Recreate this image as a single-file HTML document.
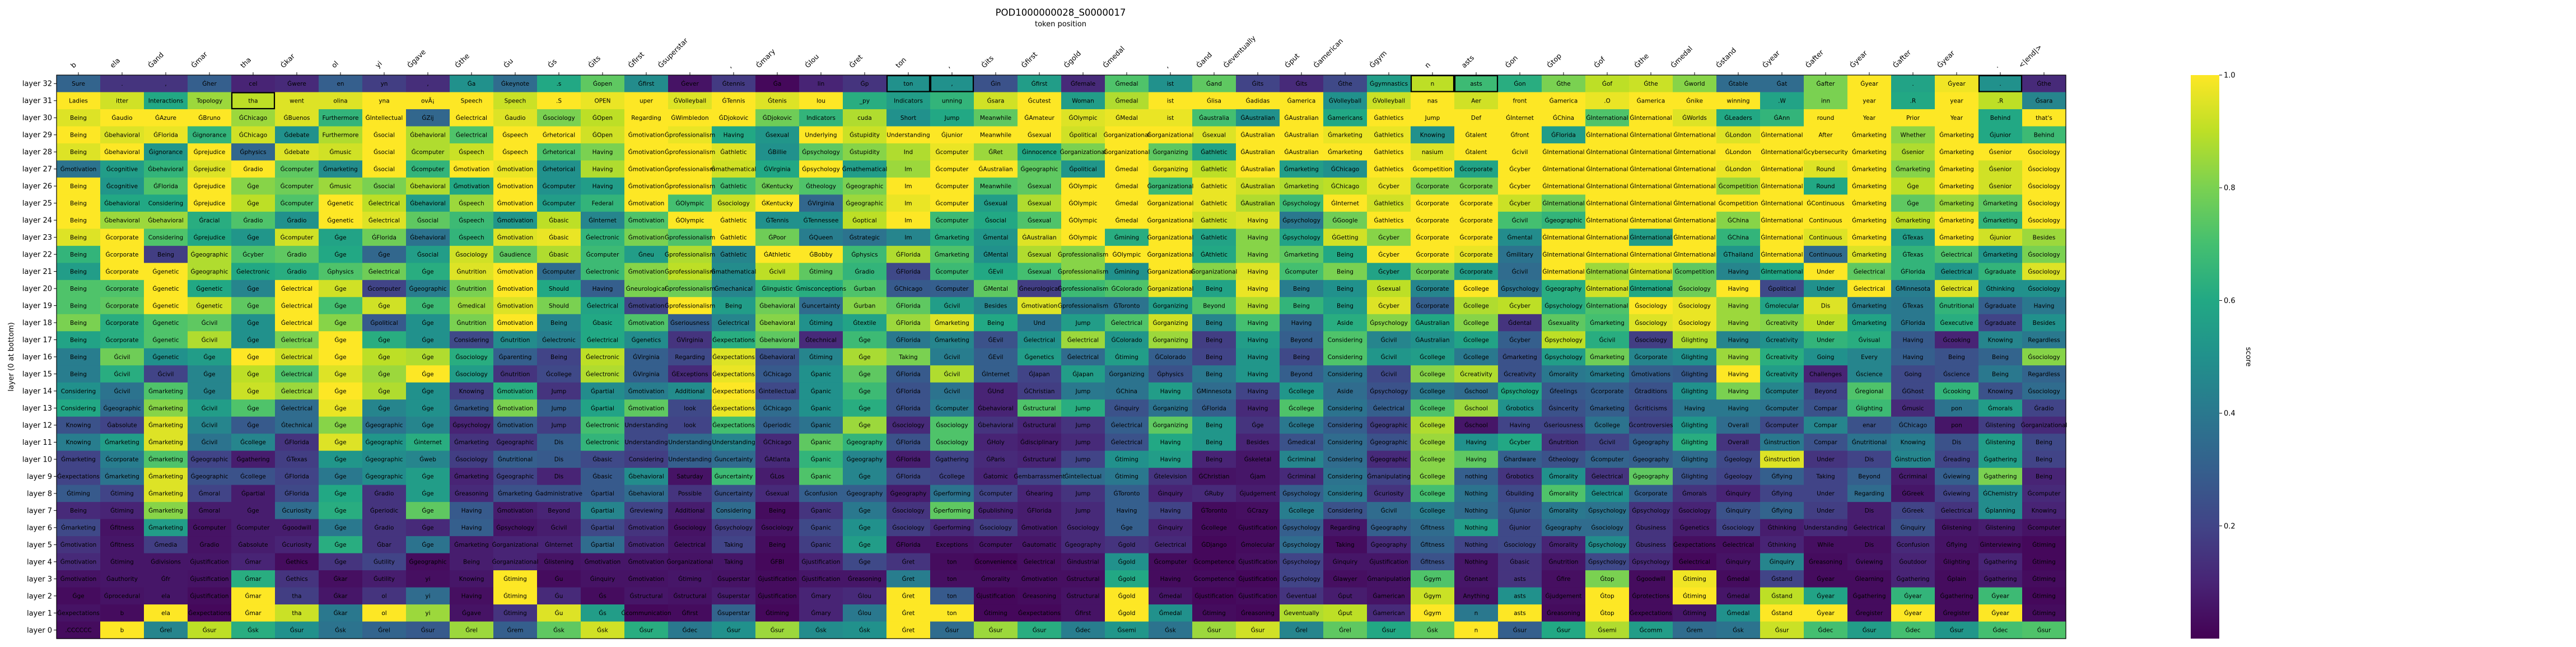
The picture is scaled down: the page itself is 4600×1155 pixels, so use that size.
<!DOCTYPE html>
<html><head><meta charset="utf-8">
<style>
html,body{margin:0;padding:0;background:#fff;}
svg{display:block;font-family:"DejaVu Sans","Liberation Sans",sans-serif;}
</style></head>
<body>
<svg id="chart" width="4600" height="1155" viewBox="0 0 4600 1155" xmlns="http://www.w3.org/2000/svg">
<text x="1894" y="28" font-size="16.5" text-anchor="middle">POD1000000028_S0000017</text>
<text x="1894" y="47" font-size="13" text-anchor="middle">token position</text>
<text transform="translate(24,637) rotate(-90)" font-size="13" text-anchor="middle">layer (0 at bottom)</text>
<g id="cells"></g>
<g id="celltext"></g>
<g id="boxes"></g>
<g id="axes"></g>
<g id="cbar"></g>
</svg>
<script>
const tokens = ["b","ela","Ġand","Ġmar","tha","Ġkar","ol","yi","Ġgave","Ġthe","Ġu","Ġs","Ġits","Ġfirst","Ġsuperstar",",","Ġmary","Ġlou","Ġret","ton",",","Ġits","Ġfirst","Ġgold","Ġmedal",",","Ġand","Ġeventually","Ġput","Ġamerican","Ġgym","n","asts","Ġon","Ġtop","Ġof","Ġthe","Ġmedal","Ġstand","Ġyear","Ġafter","Ġyear","Ġafter","Ġyear",".","<|end|>"];
const layerOrder = [32,31,30,29,28,27,26,25,24,23,22,21,20,19,18,17,16,15,14,13,12,11,10,9,8,7,6,5,4,3,2,1,0];
const cbTicks = [0.2,0.4,0.6,0.8,1.0];
const boxed = [[31,4],[32,19],[32,20],[32,31],[32,32],[32,44]];
const txt32 = "Sure|.|,|^her|cel|^were|en|yn|,|^a|^keynote|.s|^open|^first|^ever|^tennis|^a|lin|^p|ton|,|^in|^first|^female|^medal|ist|^and|^its|^its|^the|^gymnastics|n|asts|^on|^the|^of|^the|^world|^table|^at|^after|^year|.|^year|.|^the";
const val32 = [.32,.15,.15,.3,.1,.12,.3,.18,.13,.5,.35,.6,.75,.48,.05,.17,.02,.1,.15,.5,.5,.25,.55,.12,.72,.5,.75,.2,.12,.22,.55,.9,.68,.62,.8,.9,.92,.82,.35,.35,.8,1,.58,.98,.5,.12];
const txt31 = "Ladies|itter|Interactions|Topology|tha|went|olina|yna|ovÃ¡|Speech|Speech|.S|OPEN|uper|^Volleyball|^Tennis|^tenis|lou|_py|Indicators|unning|^sara|^cutest|Woman|^medal|ist|^lisa|^adidas|^america|^Volleyball|^Volleyball|nas|Aer|front|^america|.O|^america|^nike|winning|.W|inn|year|.R|year|.R|^sara";
const val31 = [1,.93,.6,.85,.9,.95,.95,1,1,1,.92,1,.97,1,.95,1,.95,1,.62,.55,.65,.93,1,.55,.88,1,1,1,1,.5,.92,1,.93,1,1,.97,1,1,1,.58,.8,1,.6,1,.9,.45];
const txt30 = "Being|^audio|^Azure|^Bruno|^Chicago|^Buenos|Furthermore|^Intellectual|^Zij|^electrical|^audio|^sociology|^Open|Regarding|^Wimbledon|^Djokovic|^Djokovic|Indicators|cuda|Short|Jump|Meanwhile|^Amateur|^Olympic|^Medal|ist|^australia|^Australian|^Australian|^americans|^athletics|Jump|Def|^Internet|^China|^International|^International|^Worlds|^Leaders|^Ann|round|Year|Prior|Year|Behind|that's";
const val30 = [.95,1,1,1,.85,.95,.65,1,.33,1,.95,.8,.9,1,1,1,.78,.65,.88,.5,.6,.75,1,.95,.97,.97,.7,.5,1,.6,1,1,1,1,1,.72,1,.95,.6,.65,1,1,1,1,.6,1];
const txt29 = "Being|^behavioral|^Florida|^ignorance|^Chicago|^debate|Furthermore|^social|^behavioral|^electrical|^speech|^rhetorical|^Open|^motivation|^professionalism|Having|^sexual|Underlying|^stupidity|Understanding|^junior|Meanwhile|^sexual|^political|^organizational|^organizational|^sexual|^Australian|^Australian|^marketing|^athletics|Knowing|^talent|^front|^Florida|^International|^International|^International|^London|^International|After|^marketing|Whether|^marketing|^junior|Behind";
const val29 = [1,.95,.97,.65,.93,.5,.88,1,.88,.72,1,1,.93,1,.97,.6,.52,1,.92,1,1,1,1,.93,1,1,.95,1,1,.97,.97,.5,1,1,.55,1,1,1,.95,1,1,1,.83,1,.6,.68];
const txt28 = "Being|^behavioral|^ignorance|^prejudice|^physics|^debate|^music|^social|^computer|^speech|^speech|^rhetorical|Having|^motivation|^professionalism|^athletic|^Billie|^psychology|^stupidity|Ind|^computer|^Ret|^innocence|^organizational|^organizational|^organizing|^athletic|^Australian|^Australian|^marketing|^athletics|nasium|^talent|^civil|^International|^International|^International|^International|^London|^International|^cybersecurity|^marketing|^senior|^marketing|^senior|^sociology";
const val28 = [.95,1,.52,1,.33,.95,.93,1,.88,.92,1,.72,.8,1,1,.95,.5,.75,.82,.88,.97,.85,.6,.8,1,.75,.58,1,1,1,1,.95,1,1,1,1,1,1,1,1,1,1,.88,1,1,1];
const txt27 = "^motivation|^cognitive|^behavioral|^prejudice|^radio|^computer|^marketing|^social|^computer|^motivation|^motivation|^rhetorical|Having|^motivation|^professionalism|^mathematical|^Virginia|^psychology|^mathematical|Im|^computer|^Australian|^geographic|^political|^medal|^organizing|^athletic|^Australian|^marketing|^Chicago|^athletics|^competition|^corporate|^cyber|^International|^International|^International|^International|^London|^International|Round|^marketing|^marketing|^marketing|^senior|^sociology";
const val27 = [.38,.55,.65,.95,1,.75,.48,1,.65,1,.97,.5,.88,1,1,.93,.6,1,.55,.85,1,1,.75,.52,1,.97,.9,1,.55,.5,1,1,.58,1,1,1,1,1,.97,1,.95,1,.82,1,.93,1];
const txt26 = "Being|^cognitive|^Florida|^prejudice|^ge|^computer|^music|^social|^behavioral|^motivation|^motivation|^computer|Having|^motivation|^professionalism|^athletic|^Kentucky|^theology|^geographic|Im|^computer|Meanwhile|^sexual|^Olympic|^medal|^organizational|^athletic|^Australian|^marketing|^Chicago|^cyber|^corporate|^corporate|^cyber|^International|^International|^International|^International|^competition|^International|Round|^marketing|^ge|^marketing|^senior|^sociology";
const val26 = [1,.52,.72,1,.82,.78,.85,.8,.88,.6,1,.5,.55,1,1,.7,.78,.72,.8,1,1,.72,.75,1,1,.68,.97,.93,.88,.9,.97,.8,.8,1,1,1,1,1,.85,1,.6,1,.9,1,.93,1];
const txt25 = "Being|^behavioral|Considering|^prejudice|^ge|^computer|^genetic|^electrical|^behavioral|^speech|^motivation|^computer|Federal|^motivation|^Olympic|^sociology|^Kentucky|^Virginia|^geographic|Im|^computer|^sexual|^sexual|^Olympic|^medal|^organizational|^athletic|^Australian|^psychology|^Internet|^athletics|^corporate|^corporate|^cyber|^International|^International|^International|^International|^competition|^International|^Continuous|^marketing|^ge|^marketing|^marketing|^sociology";
const val25 = [1,.6,.6,1,.9,.72,1,.9,.55,.85,1,.55,.65,1,.7,.92,1,.33,.85,.97,1,.55,.88,1,1,1,.97,.88,.68,1,.93,1,1,.92,.78,1,1,1,1,1,1,1,.75,.85,.75,1];
const txt24 = "Being|^behavioral|^behavioral|^racial|^radio|^radio|^genetic|^electrical|^social|^speech|^motivation|^basic|^Internet|^motivation|^Olympic|^athletic|^Tennis|^Tennessee|^optical|Im|^computer|^social|^sexual|^Olympic|^medal|^organizational|^athletic|Having|^psychology|^Google|^athletics|^corporate|^corporate|^civil|^geographic|^International|^International|^International|^China|^International|Continuous|^marketing|^marketing|^marketing|^marketing|^sociology";
const val24 = [1,.85,.85,.62,.72,.5,1,.95,.75,.68,.52,.9,.45,.72,1,1,.5,.5,.9,1,.68,.6,.72,1,1,1,.93,.95,.4,.78,1,1,1,.7,.65,1,1,1,.82,1,1,1,.9,1,.65,1];
const txt23 = "Being|^corporate|Considering|^prejudice|^ge|^computer|^ge|^Florida|^behavioral|^speech|^motivation|^basic|^electronic|^motivation|^professionalism|^athletic|^Poor|^Queen|^strategic|Im|^marketing|^mental|^Australian|^Olympic|^mining|^organizational|^athletic|Having|^psychology|^Getting|^cyber|^corporate|^corporate|^mental|^International|^International|^International|^International|^China|^International|Continuous|^marketing|^Texas|^marketing|^junior|Besides";
const val23 = [.95,1,.72,.6,.52,.93,.58,.78,.38,.65,.95,.97,.65,.8,.72,1,.78,.42,.38,.45,.62,.52,.95,1,.62,1,.58,.82,.58,.93,.82,1,1,.48,1,1,.55,1,.65,1,.95,1,.55,1,.93,.85];
const txt22 = "Being|^corporate|Being|^geographic|^cyber|^radio|^ge|^ge|^social|^sociology|^audience|^basic|^computer|^neu|^professionalism|^athletic|^Athletic|^Bobby|^physics|^Florida|^marketing|^Mental|^sexual|^professionalism|^Olympic|^organizational|^Athletic|Having|^marketing|Being|^cyber|^corporate|^corporate|^military|^International|^International|^International|^International|^Thailand|^International|Continuous|^marketing|^Texas|^electrical|^marketing|^sociology";
const val22 = [.65,1,.18,.88,.72,.75,.6,.33,.55,.93,.75,.88,.68,.55,.88,.45,1,1,.68,.88,.72,.5,.88,.82,1,1,.6,.82,.75,.6,1,1,.97,.38,1,1,1,1,.52,1,.35,.95,.65,.72,.52,.8];
const txt21 = "Being|^corporate|^genetic|^geographic|^electronic|^radio|^physics|^electrical|^ge|^nutrition|^motivation|^computer|^electronic|^motivation|^professionalism|^mathematical|^civil|^timing|^radio|^Florida|^computer|^Evil|^sexual|^professionalism|^mining|^organizational|^organizational|Having|^computer|Being|^cyber|^corporate|^corporate|^civil|^International|^International|^International|^competition|Having|^International|Under|^electrical|^Florida|^electrical|^graduate|^sociology";
const val21 = [.55,1,1,.88,.6,.62,.72,.78,.62,.95,1,.35,.68,.82,.9,.48,.9,.75,.65,.22,.68,.6,.7,.82,.5,1,.82,.95,.7,.8,.58,.78,.55,.35,1,.85,.95,.75,.45,.6,1,.75,.65,.52,.65,.95];
const txt20 = "Being|^corporate|^genetic|^genetic|^ge|^electrical|^ge|^computer|^geographic|^nutrition|^motivation|Should|Having|^neurological|^professionalism|^mechanical|^linguistic|^misconceptions|^urban|^Chicago|^computer|^Mental|^neurological|^professionalism|^Colorado|^organizational|Being|Having|Being|Being|^sexual|^corporate|^college|^psychology|^geography|^International|^International|^sociology|Having|^political|Under|^electrical|^Minnesota|^electrical|^thinking|^sociology";
const val20 = [.72,.72,1,.6,.45,1,.93,.2,.42,.8,1,.6,.3,.8,.78,.45,.65,.62,.72,.28,.3,.75,.18,.68,.72,.97,.58,.97,.42,.5,.9,.45,1,.38,.62,.93,.6,.78,1,.22,.5,1,.42,.95,.5,.5];
const txt19 = "Being|^corporate|^genetic|^genetic|^ge|^electrical|^ge|^ge|^ge|^medical|^motivation|Should|^electrical|^motivation|^professionalism|Being|^behavioral|^uncertainty|^urban|^Florida|^civil|Besides|^motivation|^professionalism|^Toronto|^organizing|Beyond|Having|Being|Being|^cyber|^corporate|^college|^cyber|^psychology|^International|^sociology|^sociology|Having|^molecular|Dis|^marketing|^Texas|^nutritional|^graduate|Having";
const val19 = [.72,.75,1,.93,.75,1,.7,.93,.68,.85,.95,.8,.58,.2,1,.55,.78,.35,.82,.75,.55,.45,.95,.4,.38,.55,.72,.88,.65,.55,.95,.3,.88,.9,.62,.72,1,.97,.85,.58,.95,.42,.4,.65,.3,.4];
const txt18 = "Being|^corporate|^genetic|^civil|^ge|^electrical|^ge|^political|^ge|^nutrition|^motivation|Being|^basic|^motivation|^seriousness|^electrical|^behavioral|^timing|^textile|^Florida|^marketing|Being|Und|Jump|^electrical|^organizing|Being|Having|Having|Aside|^psychology|^Australian|^college|^dental|^sexuality|^marketing|^sociology|^sociology|Having|^creativity|Under|^marketing|^Florida|^executive|^graduate|Besides";
const val18 = [.8,.62,.72,.75,.5,1,.82,.28,.5,.8,1,.45,.6,.72,.3,.45,.82,.5,.58,.85,.95,.6,.38,.55,.72,.93,.45,.7,.33,.62,.82,.6,.82,.15,.75,.7,.95,.97,.85,.82,.9,.58,.4,.62,.2,.5];
const txt17 = "Being|^corporate|^genetic|^civil|^ge|^electrical|^ge|^ge|^ge|Considering|^nutrition|^electronic|^electrical|^genetics|^Virginia|^expectations|^behavioral|^technical|^ge|^Florida|^marketing|^Evil|^electrical|^electrical|^Colorado|^organizing|Being|Having|Beyond|Considering|^civil|^Australian|^college|^cyber|^psychology|^civil|^sociology|^lighting|Having|^creativity|Under|^visual|Having|^cooking|Knowing|Regardless";
const val17 = [.58,.62,.72,.88,.5,.8,1,.62,.5,.22,.48,.42,.6,.48,.15,.62,.75,.12,.68,.4,.45,.25,.5,.85,.52,.85,.18,.55,.3,.72,.45,.5,.58,.3,.9,.62,.18,.88,.45,.5,.65,.62,.28,.1,.45,.4];
const txt16 = "Being|^civil|^genetic|^ge|^ge|^electrical|^ge|^ge|^ge|^sociology|^parenting|Being|^electronic|^Virginia|Regarding|^expectations|^behavioral|^timing|^ge|Taking|^civil|^Evil|^genetics|^electrical|^timing|^Colorado|Being|Having|Being|Considering|^civil|^college|^college|^marketing|^psychology|^marketing|^corporate|^lighting|Having|^creativity|Going|Every|Having|Being|Being|^sociology";
const val16 = [.42,.78,.5,.55,1,.93,1,.9,.88,.62,.3,.2,.9,.3,.22,.95,.25,.45,.87,.8,.42,.3,.55,.35,.55,.3,.2,.52,.22,.72,.52,.55,.4,.25,.55,.78,.45,.5,.85,.62,.5,.45,.3,.25,.32,.82];
const txt15 = "Being|^civil|^civil|^ge|^ge|^electrical|^ge|^ge|^ge|^sociology|^nutrition|^college|^electronic|^Virginia|^Exceptions|^expectations|^Chicago|^panic|^ge|^Florida|^civil|^Internet|^Japan|^Japan|^organizing|^physics|Being|Having|Beyond|Considering|^civil|^college|^creativity|^creativity|^morality|^marketing|^motivations|^lighting|Having|^creativity|Challenges|^science|Going|^science|Being|Regardless";
const val15 = [.42,.62,.2,.45,.9,.72,.95,.85,1,.55,.15,.22,.88,.3,.12,.97,.28,.5,.75,.28,.88,.3,.2,.55,.38,.25,.4,.52,.3,.38,.22,.82,.88,.25,.4,.42,.3,.28,1,.55,.1,.45,.22,.25,.4,.32];
const txt14 = "Considering|^civil|^marketing|^ge|^ge|^electrical|^ge|^ge|^ge|Knowing|^motivation|Jump|^partial|^motivation|Additional|^expectations|^intellectual|^panic|^ge|^Florida|^civil|^Und|^Christian|Jump|^China|Having|^Minnesota|Having|^college|Aside|^psychology|^college|^school|^psychology|^feelings|^corporate|^traditions|^lighting|Having|^computer|Beyond|^regional|^Ghost|^cooking|Knowing|^sociology";
const val14 = [.5,.38,.72,.45,.92,.85,1,.88,.5,.18,.62,.15,.48,.42,.48,1,.22,.5,.68,.25,.38,.1,.18,.4,.38,.55,.35,.2,.52,.35,.25,.4,.35,.6,.28,.3,.25,.5,.8,.45,.2,.72,.22,.65,.25,.35];
const txt13 = "Considering|^geographic|^marketing|^civil|^ge|^electrical|^ge|^ge|^ge|^marketing|^motivation|Jump|^partial|^motivation|look|^expectations|^Chicago|^panic|^ge|^Florida|^computer|^behavioral|^structural|Jump|^inquiry|^organizing|^Florida|Having|^college|Considering|^electrical|^college|^school|^robotics|^sincerity|^marketing|^criticisms|Having|Having|^computer|Compar|^lighting|^music|pon|^morals|^radio";
const val13 = [.6,.35,.82,.55,.72,.35,.97,.45,.5,.28,.8,.3,.58,.75,.22,.97,.35,.5,.62,.25,.42,.1,.72,.62,.25,.38,.3,.12,.72,.38,.3,.72,.85,.5,.25,.3,.22,.4,.4,.38,.25,.68,.12,.38,.55,.2];
const txt12 = "Knowing|^absolute|^marketing|^civil|^ge|^technical|^ge|^geographic|^ge|^psychology|^motivation|Jump|^electronic|Understanding|look|^expectations|^periodic|^panic|^ge|^sociology|^sociology|^behavioral|^structural|Jump|^electrical|^organizing|Being|^ge|^college|Considering|^geographic|^college|^school|Having|^seriousness|^college|^controversies|^lighting|Overall|^computer|Compar|enar|^Chicago|pon|^listening|^organizational";
const val12 = [.25,.2,.95,.45,.28,.35,.82,.38,.45,.1,.3,.18,.7,.22,.2,.7,.3,.38,.85,.12,.72,.15,.1,.15,.3,.75,.52,.15,.4,.3,.18,.88,.06,.2,.2,.38,.2,.52,.35,.22,.45,.25,.3,.06,.18,.12];
const txt11 = "Knowing|^marketing|^marketing|^civil|^college|^Florida|^ge|^geographic|^internet|^marketing|^geographic|Dis|^electronic|Understanding|Understanding|Understanding|^Chicago|^panic|^geography|^Florida|^sociology|^Holy|^disciplinary|Jump|^electrical|Having|Being|Besides|^medical|Considering|^geographic|^college|Having|^cyber|^nutrition|^civil|^geography|^lighting|Overall|^instruction|Compar|^nutritional|Knowing|Dis|^listening|Being";
const val11 = [.42,.55,.95,.38,.45,.15,.95,.52,.62,.15,.15,.3,.65,.22,.35,.45,.12,.75,.65,.25,.72,.1,.08,.12,.25,.6,.52,.1,.25,.35,.25,.85,.5,.6,.15,.2,.3,.62,.15,.4,.25,.38,.42,.25,.55,.22];
const txt10 = "^marketing|^corporate|^marketing|^geographic|^gathering|^Texas|^ge|^geographic|^web|^sociology|^nutritional|Dis|^basic|Considering|Understanding|^uncertainty|^Atlanta|^panic|^geography|^Florida|^gathering|^Paris|^structural|Jump|^timing|Having|Being|^skeletal|^criminal|Considering|^geographic|^college|Having|^hardware|^theology|^computer|^geography|^lighting|^geology|^instruction|Under|Dis|^instruction|^reading|^gathering|Being";
const val10 = [.2,.42,.72,.2,.08,.18,.52,.48,.45,.18,.3,.28,.22,.18,.3,.35,.12,.65,.45,.08,.2,.12,.1,.2,.5,.55,.1,.06,.45,.35,.12,.82,.75,.3,.25,.32,.3,.35,.22,.95,.15,.2,.45,.2,.55,.2];
const txt9 = "^expectations|^marketing|^marketing|^geographic|^college|^Florida|^ge|^geographic|^ge|^marketing|^geographic|Dis|^basic|^behavioral|Saturday|^uncertainty|^Los|^panic|^ge|^Florida|^college|^atomic|^embarrassment|^intellectual|^timing|^television|^Christian|^jam|^criminal|Considering|^manipulating|^college|nothing|^robotics|^morality|^electrical|^geography|^lighting|^geology|^flying|Taking|Beyond|^criminal|^viewing|^gathering|Being";
const val9 = [.2,.38,.95,.25,.25,.2,.4,.48,.55,.1,.2,.1,.28,.48,.05,.68,.08,.72,.45,.22,.2,.1,.2,.35,.4,.15,.05,.06,.12,.38,.2,.82,.3,.15,.5,.15,.75,.25,.2,.3,.2,.3,.08,.3,.8,.1];
const txt8 = "^timing|^timing|^marketing|^moral|^partial|^Florida|^ge|^radio|^ge|^reasoning|^marketing|^administrative|^partial|^behavioral|Possible|^uncertainty|^sexual|^confusion|^geography|^geography|^performing|^computer|^hearing|Jump|^Toronto|^inquiry|^Ruby|^judgement|^psychology|Considering|^curiosity|^college|Nothing|^building|^morality|^electrical|^corporate|^morals|^inquiry|^flying|Under|Regarding|^Greek|^viewing|^Chemistry|^computer";
const val8 = [.28,.2,.95,.2,.08,.22,.6,.15,.55,.12,.25,.25,.28,.35,.15,.25,.12,.3,.3,.08,.38,.2,.1,.15,.3,.1,.12,.08,.3,.4,.15,.7,.38,.22,.72,.5,.3,.15,.1,.2,.2,.35,.06,.2,.48,.12];
const txt7 = "Being|^timing|^marketing|^moral|^ge|^curiosity|^ge|^periodic|^ge|Having|^motivation|Beyond|^partial|^reviewing|Additional|Considering|Being|^panic|^ge|^sociology|^performing|^publishing|^Florida|Jump|Having|Having|^Toronto|^Crazy|^college|Considering|^civil|^college|Nothing|^junior|^morality|^psychology|^psychology|^sociology|^inquiry|^flying|Under|Dis|^Greek|^electrical|^planning|Knowing";
const val7 = [.12,.1,.82,.08,.08,.35,.62,.15,.75,.28,.08,.1,.45,.2,.08,.35,.03,.15,.4,.15,.75,.1,.08,.12,.3,.2,.03,.04,.42,.25,.35,.42,.35,.25,.4,.38,.15,.1,.25,.32,.18,.08,.2,.15,.48,.1];
const txt6 = "^marketing|^fitness|^marketing|^computer|^computer|^goodwill|^ge|^radio|^ge|Having|^psychology|^civil|^partial|^motivation|^sociology|^psychology|^sociology|^panic|^ge|^sociology|^performing|^sociology|^motivation|^sociology|^ge|^inquiry|^college|^justification|^psychology|Regarding|^geography|^fitness|Nothing|^junior|^geography|^sociology|^business|^genetics|^sociology|^thinking|Understanding|^electrical|^inquiry|^listening|^listening|^computer";
const val6 = [.22,.05,.55,.05,.08,.08,.4,.15,.12,.3,.06,.08,.22,.15,.05,.18,.05,.22,.5,.18,.12,.18,.08,.12,.3,.1,.03,.03,.3,.06,.3,.35,.55,.22,.35,.35,.15,.08,.2,.08,.12,.08,.25,.06,.08,.05];
const txt5 = "^motivation|^fitness|^media|^radio|^absolute|^curiosity|^ge|^bar|^ge|^marketing|^organizational|^Internet|^partial|^motivation|^electrical|Taking|Being|^panic|^ge|^Florida|Exceptions|^computer|^automatic|^geography|^gold|^electrical|^Django|^molecular|^psychology|Taking|^geography|^fitness|Nothing|^sociology|^morality|^psychology|^business|^expectations|^electrical|^thinking|While|Dis|^confusion|^flying|^interviewing|^timing";
const val5 = [.15,.06,.18,.05,.08,.1,.62,.15,.38,.08,.1,.1,.35,.12,.06,.2,.03,.18,.55,.05,.05,.06,.06,.12,.15,.12,.02,.03,.35,.03,.12,.32,.2,.22,.1,.48,.15,.04,.04,.1,.04,.04,.12,.05,.04,.02];
const txt4 = "^motivation|^timing|^divisions|^justification|^mar|^ethics|^ge|^utility|^geographic|Being|^organizational|^listening|^motivation|^motivation|^organizational|Taking|^FBI|^justification|^ge|^ret|ton|^convenience|^electrical|^industrial|^gold|^computer|^competence|^justification|^psychology|^inquiry|^justification|^fitness|Nothing|^basic|^nutrition|^psychology|^psychology|^electrical|^inquiry|^inquiry|^reasoning|^viewing|^outdoor|^lighting|^gathering|^timing";
const val4 = [.12,.06,.06,.06,.1,.03,.15,.2,.03,.08,.1,.05,.06,.06,.05,.06,.02,.1,.22,.15,.03,.02,.04,.06,.5,.03,.02,.04,.2,.06,.06,.25,.06,.15,.06,.22,.12,.02,.05,.45,.03,.05,.1,.04,.1,.02];
const txt3 = "^motivation|^authority|^fr|^justification|^mar|^ethics|^kar|^utility|yi|Knowing|^timing|^u|^inquiry|^motivation|^timing|^superstar|^justification|^justification|^reasoning|^ret|ton|^morality|^motivation|^structural|^gold|Having|^competence|^justification|^psychology|^lawyer|^manipulation|^gym|^tenant|asts|^fire|^top|^goodwill|^timing|^medal|^stand|^year|^learning|^gathering|^plain|^gathering|^timing";
const val3 = [.05,.06,.06,.05,.62,.15,.04,.08,.04,.06,1,.03,.05,.05,.06,.05,.03,.06,.06,.42,.04,.04,.04,.04,.6,.03,.03,.02,.2,.04,.05,.72,.06,.15,.04,.8,.03,.98,.03,.2,.03,.03,.1,.03,.08,.03];
const txt2 = "^ge|^procedural|ela|^justification|^mar|tha|^kar|ol|yi|Having|^timing|^u|^s|^structural|^structural|^superstar|^justification|^mary|^lou|^ret|ton|^justification|^reasoning|^structural|^gold|^medal|^justification|^justification|^eventual|^put|^american|^gym|Anything|asts|^judgement|^top|^protections|^timing|^medal|^stand|^year|^gathering|^year|^gathering|^year|^timing";
const val2 = [.03,.05,.06,.03,1,.18,.06,.15,.35,.04,1,.12,.03,.06,.05,.08,.03,.1,.12,1,.28,.02,.03,.05,1,.06,.02,.03,.15,.08,.05,.92,.05,.5,.04,1,.03,1,.06,.9,.58,.03,.65,.03,.68,.02];
const txt1 = "^expectations|b|ela|^expectations|^mar|tha|^kar|ol|yi|^gave|^timing|^u|^s|^communication|^first|^superstar|^timing|^mary|^lou|^ret|ton|^timing|^expectations|^first|^gold|^medal|^timing|^reasoning|^eventually|^put|^american|^gym|n|asts|^reasoning|^top|^expectations|^timing|^medal|^stand|^year|^register|^year|^register|^year|^timing";
const val1 = [.05,.03,1,.02,1,.92,.4,1,.85,.05,.15,.95,.55,.02,.03,.32,.02,.1,.4,1,1,.02,.02,.05,1,.5,.03,.02,.88,.9,.12,1,.4,1,.03,1,.03,.06,.5,1,1,.03,1,.03,1,.03];
const txt0 = ".CCCCCC|b|^rel|^sur|^sk|^sur|^sk|^rel|^sur|^rel|^rem|^sk|^sk|^sur|^dec|^sur|^sur|^sk|^sk|^ret|^sur|^sur|^sur|^dec|^semi|^sk|^sur|^sur|^rel|^rel|^sur|^sk|n|^sur|^sur|^semi|^comm|^rem|^sk|^sur|^dec|^sur|^dec|^sur|^dec|^sur";
const val0 = [.03,1,.45,.9,.62,.5,.38,.32,.28,.85,.3,.75,.93,.62,.4,.5,.85,.48,.5,1,.35,.85,.62,.42,.52,.38,.85,.93,.45,.75,.6,.75,1,.3,.6,.88,.55,.35,.38,.92,.7,.55,.7,.52,.7,.72];

const rowTexts = [txt32,txt31,txt30,txt29,txt28,txt27,txt26,txt25,txt24,txt23,txt22,txt21,txt20,txt19,txt18,txt17,txt16,txt15,txt14,txt13,txt12,txt11,txt10,txt9,txt8,txt7,txt6,txt5,txt4,txt3,txt2,txt1,txt0];
const rowVals = [val32,val31,val30,val29,val28,val27,val26,val25,val24,val23,val22,val21,val20,val19,val18,val17,val16,val15,val14,val13,val12,val11,val10,val9,val8,val7,val6,val5,val4,val3,val2,val1,val0];

const NS = "http://www.w3.org/2000/svg";
const X0 = 101, X1 = 3689, Y0 = 134, Y1 = 1140;
const CW = (X1 - X0) / tokens.length, RH = (Y1 - Y0) / layerOrder.length;
const VMIN = 0, VMAX = 1;
function xOf(c){ return X0 + c * CW; }
function yOfLayer(l){ return Y0 + layerOrder.indexOf(l) * RH; }
const VIR = ["#440154","#482475","#414487","#355f8d","#2a788e","#21918c","#22a884","#44bf70","#7ad151","#bddf26","#fde725"];
function hex(h){ return [parseInt(h.slice(1,3),16),parseInt(h.slice(3,5),16),parseInt(h.slice(5,7),16)]; }
function viridis(v){
  let t = Math.max(0, Math.min(1, (v - VMIN) / (VMAX - VMIN))) * 10;
  const i = Math.min(9, Math.floor(t)), f = t - i;
  const a = hex(VIR[i]), b = hex(VIR[i+1]);
  return "rgb(" + a.map((x,k)=>Math.round(x + (b[k]-x)*f)).join(",") + ")";
}
function mk(tag, attrs){ const e = document.createElementNS(NS, tag); for (const k in attrs) e.setAttribute(k, attrs[k]); return e; }

const gCells = document.getElementById("cells"), gText = document.getElementById("celltext");
layerOrder.forEach((layer, ri) => {
  const texts = rowTexts[ri].split("|").map(s => s.replace(/\^/g, "Ġ"));
  const vals = rowVals[ri];
  for (let c = 0; c < tokens.length; c++) {
    const y = yOfLayer(layer);
    const r = mk("rect", {x: xOf(c), y: y, width: CW + 0.6, height: RH + 0.6, fill: viridis(vals[c])});
    
    
    gCells.appendChild(r);
    const t = mk("text", {x: xOf(c) + CW/2, y: y + RH/2 + 3.8, "font-size": 10.5, "text-anchor": "middle", fill: "#000"});
    
    
    t.textContent = texts[c] || "";
    gText.appendChild(t);
  }
});

const gBox = document.getElementById("boxes");
boxed.forEach(([layer, c]) => {
  const b = mk("rect", {x: xOf(c) + 1, y: yOfLayer(layer) + 1, width: CW - 2, height: RH - 2, fill: "none", stroke: "#000", "stroke-width": 2.2});
  
  
  gBox.appendChild(b);
});

const gAx = document.getElementById("axes");
const frame = mk("rect", {x: X0, y: Y0, width: X1 - X0, height: Y1 - Y0, fill: "none", stroke: "#000", "stroke-width": 1.2});


gAx.appendChild(frame);
layerOrder.forEach(layer => {
  const yc = yOfLayer(layer) + RH/2;
  const tk = mk("line", {x1: X0 - 5, x2: X0, y1: yc, y2: yc, stroke: "#000", "stroke-width": 1});
  
  
  gAx.appendChild(tk);
  const lb = mk("text", {x: X0 - 8, y: yc + 4.5, "font-size": 13, "text-anchor": "end"});
  
  
  lb.textContent = "layer " + layer;
  gAx.appendChild(lb);
});
tokens.forEach((tok, c) => {
  const xc = xOf(c) + CW/2;
  const tk = mk("line", {x1: xc, x2: xc, y1: Y0 - 5, y2: Y0, stroke: "#000", "stroke-width": 1});
  
  
  gAx.appendChild(tk);
  const lb = mk("text", {"font-size": 12.5, "text-anchor": "start"});
  
  
  lb.textContent = tok;
  gAx.appendChild(lb);
  const L = lb.getComputedTextLength();
  const ax = xc - L * 0.7071 - 3, ay = Y0 - 12;
  lb.setAttribute("transform", "translate(" + ax + "," + ay + ") rotate(-45)");
});

const gCb = document.getElementById("cbar");
const CBX = 3912, CBW = 51;
const defs = mk("defs", {});
const grad = mk("linearGradient", {id: "vgrad", x1: 0, y1: 1, x2: 0, y2: 0});
VIR.forEach((col, i) => { const s = mk("stop", {offset: (i*10) + "%", "stop-color": col}); grad.appendChild(s); });
defs.appendChild(grad); gCb.appendChild(defs);
const cbr = mk("rect", {x: CBX, y: Y0, width: CBW, height: Y1 - Y0, fill: "url(#vgrad)", stroke: "none"});


gCb.appendChild(cbr);
function cbY(v){ return Y1 - (v - VMIN) / (VMAX - VMIN) * (Y1 - Y0); }
cbTicks.forEach(v => {
  const y = cbY(v);
  const tk = mk("line", {x1: CBX + CBW, x2: CBX + CBW + 5, y1: y, y2: y, stroke: "#000", "stroke-width": 1});
  
  
  gCb.appendChild(tk);
  const lb = mk("text", {x: CBX + CBW + 8, y: y + 4.5, "font-size": 13});
  
  
  lb.textContent = v.toFixed(1);
  gCb.appendChild(lb);
});
const cbl = mk("text", {transform: "translate(" + (CBX + CBW + 48) + "," + ((Y0 + Y1)/2) + ") rotate(90)", "font-size": 13, "text-anchor": "middle"});


cbl.textContent = "score";
gCb.appendChild(cbl);
</script>
</body></html>
